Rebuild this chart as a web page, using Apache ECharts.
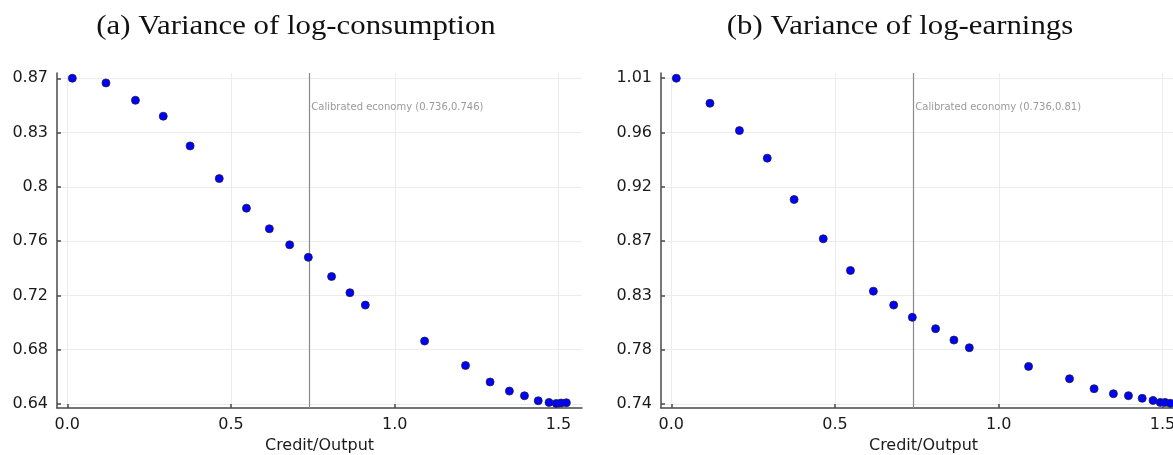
<!DOCTYPE html>
<html>
<head>
<meta charset="utf-8">
<script src="https://cdn.jsdelivr.net/npm/echarts@6/dist/echarts.min.js"></script>
<style>
  html, body { margin: 0; padding: 0; background: #ffffff; overflow: hidden; }
  /* canvas is a little wider than the window: panel (b) runs off the right edge */
  #chart { width: 1200px; height: 455px; }
</style>
</head>
<body>
<div id="chart"></div>
<script>
// Credit/Output ratio for each simulated economy (shared by both panels)
const creditOutput = [0.0153, 0.118, 0.208, 0.293, 0.375, 0.464, 0.547, 0.617, 0.679, 0.736,
  0.807, 0.863, 0.910, 1.091, 1.216, 1.291, 1.350, 1.396, 1.438, 1.471, 1.493, 1.508, 1.524];

// Panel (a): variance of log-consumption
const varLogConsumption = [0.8720, 0.8687, 0.8565, 0.8453, 0.8244, 0.8014, 0.7806, 0.7661, 0.7548, 0.746,
  0.7325, 0.7211, 0.7124, 0.6871, 0.6699, 0.6583, 0.6519, 0.6486, 0.6451, 0.6439, 0.6432, 0.6435, 0.6437];

// Panel (b): variance of log-earnings
const varLogEarnings = [1.006, 0.9855, 0.9631, 0.9405, 0.9066, 0.8744, 0.8484, 0.8315, 0.8201, 0.81,
  0.8007, 0.7914, 0.7851, 0.7698, 0.7597, 0.7515, 0.7474, 0.7458, 0.7436, 0.7419, 0.7403, 0.7403, 0.7395];

// Calibrated economy
const calibX = 0.736;
const calibYA = 0.746;
const calibYB = 0.81;

// Axis ticks and their labels
const xTicks = [0, 0.5, 1.0, 1.5];
const xTickLabels = ['0.0', '0.5', '1.0', '1.5'];
const yTicksA = [0.6428, 0.6810, 0.7192, 0.7574, 0.7956, 0.8338, 0.8720];
const yTickLabelsA = ['0.64', '0.68', '0.72', '0.76', '0.8', '0.83', '0.87'];
const yTicksB = [0.739, 0.7835, 0.828, 0.8725, 0.917, 0.9615, 1.006];
const yTickLabelsB = ['0.74', '0.78', '0.83', '0.87', '0.92', '0.96', '1.01'];

const titleA = '(a) Variance of log-consumption';
const titleB = '(b) Variance of log-earnings';
const xName = 'Credit/Output';

function labelFor(ticks, labels) {
  return function (v) {
    for (let i = 0; i < ticks.length; i++) {
      if (Math.abs(ticks[i] - v) < 1e-6) return labels[i];
    }
    return '';
  };
}

const axisLineStyle = { color: '#4a4a4a', width: 1.5 };
const gridLineStyle = { color: '#ececec', width: 1 };
const tickFont = { color: '#1a1a1a', fontSize: 16, fontFamily: 'DejaVu Sans' };

function makeX(gridIndex) {
  return {
    type: 'value', gridIndex: gridIndex,
    min: -0.0315, max: 1.5717,
    name: xName, nameLocation: 'middle', nameGap: 30,
    nameTextStyle: { color: '#1a1a1a', fontSize: 16, fontFamily: 'DejaVu Sans' },
    axisLine: { onZero: false, lineStyle: axisLineStyle },
    axisTick: { show: true, inside: true, length: 4, customValues: xTicks, lineStyle: axisLineStyle },
    axisLabel: Object.assign({ margin: 9, customValues: xTicks, formatter: labelFor(xTicks, xTickLabels) }, tickFont),
    splitLine: { show: true, lineStyle: gridLineStyle }
  };
}

function makeY(gridIndex, min, max, ticks, labels) {
  return {
    type: 'value', gridIndex: gridIndex,
    min: min, max: max,
    axisLine: { show: true, onZero: false, lineStyle: axisLineStyle },
    axisTick: { show: true, inside: true, length: 4, customValues: ticks, lineStyle: axisLineStyle },
    axisLabel: Object.assign({ margin: 9, customValues: ticks, formatter: labelFor(ticks, labels) }, tickFont),
    splitLine: { show: true, lineStyle: gridLineStyle }
  };
}

function makeSeries(idx, ys, calibY, annotY) {
  return {
    type: 'scatter', xAxisIndex: idx, yAxisIndex: idx,
    data: creditOutput.map((x, i) => [x, ys[i]]),
    symbol: 'circle', symbolSize: 8,
    itemStyle: { color: '#0000ff', borderColor: '#202040', borderWidth: 0.8, opacity: 1 },
    emphasis: { disabled: true },
    z: 5,
    markLine: {
      silent: true, symbol: ['none', 'none'], animation: false,
      lineStyle: { color: '#8a8a8a', width: 1.2, type: 'solid' },
      label: { show: false },
      data: [{ xAxis: calibX }]
    },
    markPoint: {
      silent: true, symbol: 'circle', symbolSize: 0, animation: false,
      data: [{ coord: [calibX, annotY] }],
      label: {
        show: true, position: 'right', distance: 3,
        formatter: 'Calibrated economy (' + calibX + ',' + calibY + ')',
        color: '#9a9a9a', fontSize: 10, fontFamily: 'DejaVu Sans'
      }
    }
  };
}

const chart = echarts.init(document.getElementById('chart'), null, { renderer: 'canvas' });
chart.setOption({
  animation: false,
  backgroundColor: '#ffffff',
  grid: [
    { left: 57, top: 73, width: 525, height: 335, containLabel: false, outerBoundsMode: 'none' },
    { left: 661, top: 73, width: 525, height: 335, containLabel: false, outerBoundsMode: 'none' }
  ],
  xAxis: [makeX(0), makeX(1)],
  yAxis: [
    makeY(0, 0.6400, 0.8757, yTicksA, yTickLabelsA),
    makeY(1, 0.7357, 1.0103, yTicksB, yTickLabelsB)
  ],
  series: [
    makeSeries(0, varLogConsumption, calibYA, 0.8515),
    makeSeries(1, varLogEarnings, calibYB, 0.9822)
  ],
  graphic: [
    { type: 'text', x: 296, y: 27, scaleX: 1.1, style: { text: titleA, textAlign: 'center', textVerticalAlign: 'middle',
      font: '28px "Liberation Serif"', fill: '#111111' } },
    { type: 'text', x: 900, y: 27, scaleX: 1.1, style: { text: titleB, textAlign: 'center', textVerticalAlign: 'middle',
      font: '28px "Liberation Serif"', fill: '#111111' } }
  ]
});
</script>
</body>
</html>
